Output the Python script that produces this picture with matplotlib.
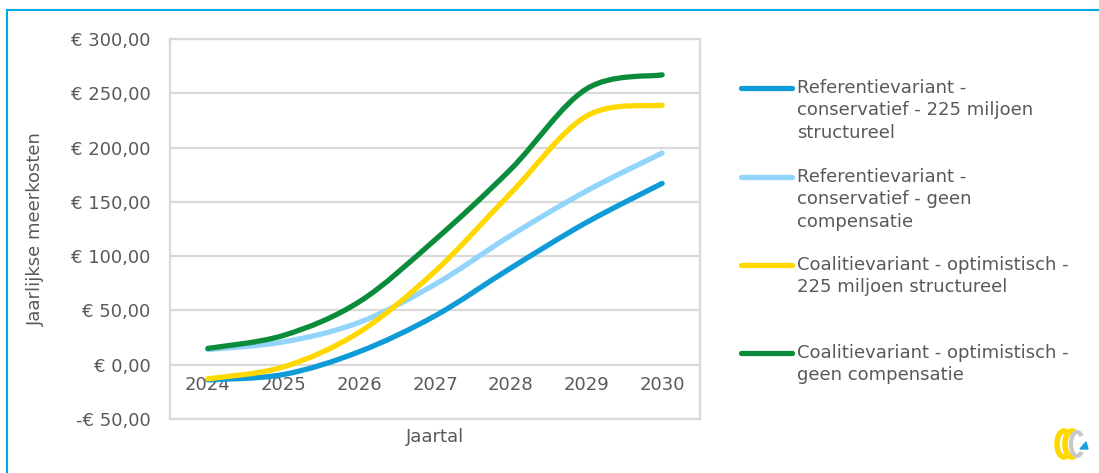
import numpy as np
import matplotlib
matplotlib.use("Agg")
import matplotlib.pyplot as plt
from matplotlib.path import Path
from matplotlib.patches import PathPatch, Polygon, Arc
from matplotlib.lines import Line2D

# data
years = ["2024", "2025", "2026", "2027", "2028", "2029", "2030"]
ref_225 = [-14, -9, 12, 45, 89, 131, 167]
ref_geen = [14, 21, 39, 74, 119, 160, 195]
coal_225 = [-13, -2, 30, 86, 158, 229, 239]
coal_geen = [15, 27, 58, 115, 180, 254, 267]

labels = ["Referentievariant -\nconservatief - 225 miljoen\nstructureel",
          "Referentievariant -\nconservatief - geen\ncompensatie",
          "Coalitievariant - optimistisch -\n225 miljoen structureel",
          "Coalitievariant - optimistisch -\ngeen compensatie"]
colors = ["#0E9BD8", "#92D4FA", "#FFD800", "#0B8C3A"]
series = [ref_225, ref_geen, coal_225, coal_geen]

yticks = [-50, 0, 50, 100, 150, 200, 250, 300]
ytick_labels = ["-€ 50,00", "€ 0,00", "€ 50,00", "€ 100,00", "€ 150,00",
                "€ 200,00", "€ 250,00", "€ 300,00"]

txt = "#595959"
grid = "#D9D9D9"
fs = 13
plt.rcParams['font.family'] = ['DejaVu Sans']

fig = plt.figure(figsize=(10.99, 4.73), dpi=100)
ax = fig.add_axes([170/1099, 1-419/473, 530/1099, 380/473])


def smooth_path(xs, ys):
    # excel style smoothed line: cubic bezier through the points
    p = np.column_stack([xs, ys]).astype(float)
    pp = np.vstack([p[0], p, p[-1]])
    verts = [p[0]]
    codes = [Path.MOVETO]
    for i in range(len(p) - 1):
        c1 = pp[i+1] + (pp[i+2] - pp[i]) / 6
        c2 = pp[i+2] - (pp[i+3] - pp[i+1]) / 6
        verts += [c1, c2, pp[i+2]]
        codes += [Path.CURVE4] * 3
    return Path(verts, codes)


x = np.arange(len(years))
for vals, c in zip(series, colors):
    ax.add_patch(PathPatch(smooth_path(x, vals), fill=False, edgecolor=c,
                           lw=3.8, capstyle='round', joinstyle='round', zorder=3))

ax.set_xlim(-0.5, 6.5)
ax.set_ylim(-50, 300)
ax.set_yticks(yticks)
ax.set_yticklabels(ytick_labels, fontsize=fs, color=txt)
ax.tick_params(axis='y', length=0, pad=14)
ax.set_xticks([])
ax.grid(axis='y', color=grid, lw=1.6)
ax.set_axisbelow(True)
for s in ax.spines.values():
    s.set_color(grid)
    s.set_linewidth(1.6)

sec = ax.secondary_xaxis(50/350)
sec.set_xticks(x)
sec.set_xticklabels(years, fontsize=fs, color=txt)
sec.tick_params(length=0, pad=8)
sec.spines['bottom'].set_visible(False)

ax.set_ylabel("Jaarlijkse meerkosten", fontsize=fs, color=txt)
ax.yaxis.set_label_coords(-0.236, 0.5)
ax.set_xlabel("Jaartal", fontsize=fs, color=txt)
ax.xaxis.set_label_coords(0.5, -0.024)

# legend, placed by hand like the reference
leg_y = [88, 177, 265, 353]
for lab, c, yy in zip(labels, colors, leg_y):
    fy = 1 - yy / 473
    fig.add_artist(Line2D([741/1099, 792/1099], [fy, fy], color=c, lw=3.8,
                          solid_capstyle='round'))
    fig.text(797/1099, fy + 9/473, lab, fontsize=fs, color=txt,
             va='top', ha='left', linespacing=1.32)

# outer frame (top and left edge in light blue)
fig.add_artist(Line2D([7/1099, 7/1099], [0, 1-10/473], color="#00A8E6", lw=1.5))
fig.add_artist(Line2D([7/1099, 1], [1-10/473, 1-10/473], color="#00A8E6", lw=1.5))

# small logo bottom right
lax = fig.add_axes([1050/1099, 12/473, 42/1099, 36/473])
lax.set_xlim(0, 42)
lax.set_ylim(0, 36)
lax.axis('off')
lax.add_patch(Arc((14, 17), 14, 26, theta1=70, theta2=290, color="#FFD800", lw=4))
lax.add_patch(Arc((22, 17), 14, 26, theta1=70, theta2=290, color="#FFD800", lw=4))
lax.add_patch(Arc((27, 17), 12, 24, theta1=60, theta2=300, color="#C8C8C8", lw=3))
lax.add_patch(Polygon([[30, 12], [38, 12], [36, 19]], color="#1BA1E2"))

fig.savefig("out.png", dpi=100)
